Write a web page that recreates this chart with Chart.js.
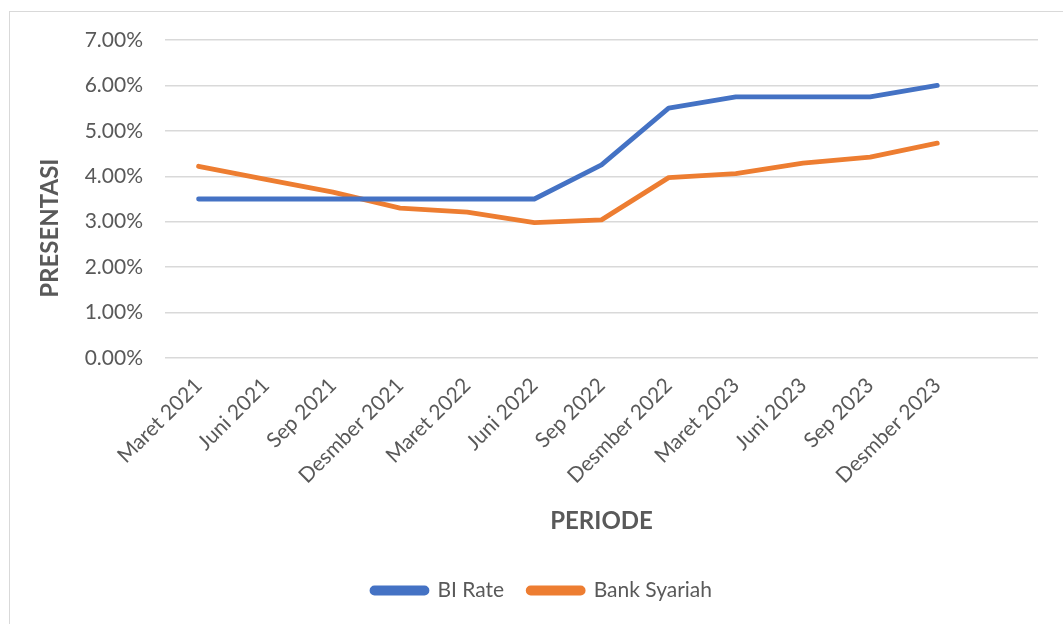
<!DOCTYPE html>
<html>
<head>
<meta charset="utf-8">
<script src="https://cdn.jsdelivr.net/npm/chart.js@4.4.1/dist/chart.umd.min.js"></script>
<style>
  html, body { margin: 0; padding: 0; background: #ffffff; }
  #wrap { position: relative; width: 1063px; height: 624px; overflow: hidden; }
  #frame { position: absolute; left: 9px; top: 11px; width: 1100px; height: 700px; border: 1px solid #d9d9d9; box-sizing: border-box; }
  #c { position: absolute; left: 0; top: 0; }
</style>
</head>
<body>
<div id="wrap">
  <div id="frame"></div>
  <canvas id="c" width="1063" height="624"></canvas>
</div>
<script>
const categories = ['Maret 2021', 'Juni 2021', 'Sep 2021', 'Desmber 2021', 'Maret 2022', 'Juni 2022',
                    'Sep 2022', 'Desmber 2022', 'Maret 2023', 'Juni 2023', 'Sep 2023', 'Desmber 2023', ''];
const biRate = [3.5, 3.5, 3.5, 3.5, 3.5, 3.5, 4.25, 5.5, 5.75, 5.75, 5.75, 6.0, null];
const bankSyariah = [4.22, 3.93, 3.65, 3.30, 3.21, 2.98, 3.04, 3.97, 4.06, 4.29, 4.42, 4.73, null];
const seriesNames = ['BI Rate', 'Bank Syariah'];
const yTicks = [0, 1, 2, 3, 4, 5, 6, 7];

const TEXT = '#595959';
const FONT = 'Lato, "Noto Sans", sans-serif';

const legendShift = {
  id: 'legendShift',
  afterLayout(chart) {
    const l = chart.legend;
    if (l) { l.left += 23; l.right += 23; }
  }
};

new Chart(document.getElementById('c'), {
  type: 'line',
  data: {
    labels: categories,
    datasets: [
      { label: seriesNames[0], data: biRate, borderColor: '#4472C4', backgroundColor: '#4472C4' },
      { label: seriesNames[1], data: bankSyariah, borderColor: '#ED7D31', backgroundColor: '#ED7D31' }
    ]
  },
  plugins: [legendShift],
  options: {
    responsive: false,
    animation: false,
    layout: { padding: { left: 0, right: 25, top: 40, bottom: 13 } },
    elements: {
      line: { borderWidth: 4.8, tension: 0, borderCapStyle: 'round', borderJoinStyle: 'round', fill: false },
      point: { radius: 0, hoverRadius: 0 }
    },
    plugins: {
      tooltip: { enabled: false },
      legend: {
        position: 'bottom',
        labels: {
          color: TEXT,
          font: { family: FONT, size: 21 },
          boxWidth: 55,
          boxHeight: 5,
          padding: 24,
          useBorderRadius: true,
          borderRadius: 2.5
        }
      }
    },
    scales: {
      x: {
        type: 'category',
        offset: true,
        grid: { display: false, drawTicks: false },
        border: { display: false },
        ticks: {
          color: TEXT,
          font: { family: FONT, size: 21 },
          minRotation: 45,
          maxRotation: 45,
          autoSkip: false,
          padding: 15
        },
        title: {
          display: true,
          text: 'PERIODE',
          color: TEXT,
          font: { family: FONT, size: 24, weight: 'bold' },
          padding: { top: 4, bottom: 20 }
        },
        afterFit: (s) => { s.height = 198; }
      },
      y: {
        min: 0,
        max: 7,
        afterBuildTicks: (s) => { s.ticks = yTicks.map(v => ({ value: v })); },
        grid: { color: '#d9d9d9', lineWidth: 1.5, drawTicks: false },
        border: { display: false },
        ticks: {
          color: TEXT,
          font: { family: FONT, size: 21 },
          padding: 22,
          callback: (v) => Number(v).toFixed(2) + '%'
        },
        title: {
          display: true,
          text: 'PRESENTASI' + ' '.repeat(10),
          color: TEXT,
          font: { family: FONT, size: 24, weight: 'bold' },
          padding: { top: 36, bottom: 0 }
        },
        afterFit: (s) => { s.width = 165; }
      }
    }
  }
});
</script>
</body>
</html>
